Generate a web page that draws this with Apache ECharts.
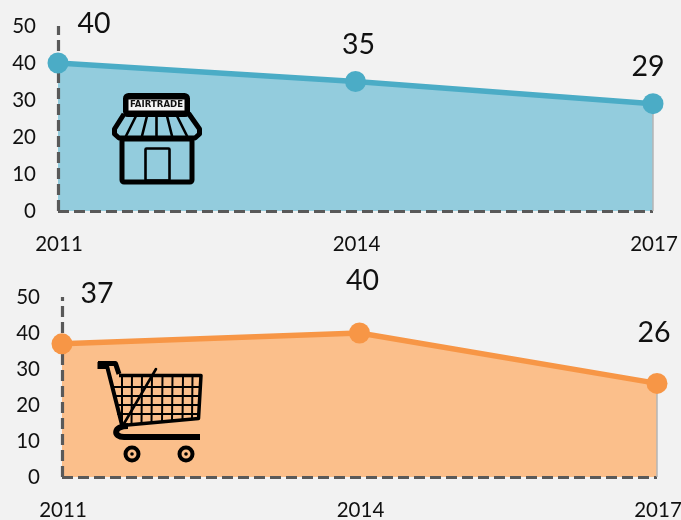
<!DOCTYPE html>
<html>
<head>
<meta charset="utf-8">
<style>html,body{margin:0;padding:0;background:#f2f2f2}#c{width:681px;height:520px}</style>
<script src="https://cdn.jsdelivr.net/npm/echarts@6/dist/echarts.min.js"></script>
</head>
<body>
<div id="c"></div>
<script>
const categories = ['2011', '2014', '2017'];
const fairtradeValues = [40, 35, 29];
const retailValues = [37, 40, 26];
const yTicks = [0, 10, 20, 30, 40, 50];

const FONT = 'Lato';
const AXIS = '#595959';
const chart = echarts.init(document.getElementById('c'));

const topOffsets = [[36, -14], [3, -12], [-5, -12]];
const bottomOffsets = [[35, -25], [3, -27], [-3, -26]];

function xAxis(idx) {
  return {
    gridIndex: idx, type: 'category', data: categories, boundaryGap: false, z: 3,
    axisLine: { show: true, onZero: false, lineStyle: { color: AXIS, width: 3.2, type: [11, 5], cap: 'butt' } },
    axisTick: { show: false },
    axisLabel: { color: '#111', fontFamily: FONT, fontSize: 20.5, margin: 23, hideOverlap: false,
      showMinLabel: true, showMaxLabel: true, interval: 0, padding: [0, 0, 0, 2] },
    splitLine: { show: false }
  };
}
function yAxis(idx) {
  return {
    gridIndex: idx, type: 'value', min: yTicks[0], max: yTicks[yTicks.length - 1], interval: 10, z: 3,
    axisLine: { show: true, lineStyle: { color: AXIS, width: 3.2, type: [11, 5], cap: 'butt' } },
    axisTick: { show: false },
    axisLabel: { color: '#111', fontFamily: FONT, fontSize: 20.5, margin: 22 },
    splitLine: { show: false }
  };
}
function areaSeries(idx, values, area) {
  const last = values.length - 1;
  return {
    type: 'line', xAxisIndex: idx, yAxisIndex: idx, z: 1, data: values, showSymbol: false, silent: true,
    lineStyle: { width: 0 }, areaStyle: { color: area, opacity: 1 }, animation: false,
    markLine: {
      silent: true, symbol: 'none', label: { show: false }, animation: false,
      lineStyle: { color: '#b5b5b5', width: 1.5, type: 'solid' },
      data: [[{ xAxis: categories[last], yAxis: 0 }, { xAxis: categories[last], yAxis: values[last] }]]
    }
  };
}
function lineSeries(idx, values, offsets, line) {
  return {
    type: 'line', xAxisIndex: idx, yAxisIndex: idx, z: 5,
    data: values.map((v, i) => ({
      value: v,
      label: { show: true, position: 'top', offset: offsets[i], distance: 0,
        fontFamily: FONT, fontSize: 28.5, color: '#111' }
    })),
    symbol: 'circle', symbolSize: 21, showSymbol: true,
    lineStyle: { color: line, width: 5.5 },
    itemStyle: { color: line },
    animation: false
  };
}

const K = '#000';
function ln(x1, y1, x2, y2, w) {
  return { type: 'line', silent: true, z: 20, shape: { x1, y1, x2, y2 },
    style: { stroke: K, lineWidth: w, lineCap: 'round' } };
}
function poly(points, w) {
  return { type: 'polyline', silent: true, z: 20, shape: { points },
    style: { stroke: K, lineWidth: w, fill: 'none', lineJoin: 'round', lineCap: 'butt' } };
}
function rect(x, y, width, height, w, fill, r) {
  return { type: 'rect', silent: true, z: 20, shape: { x, y, width, height, r: r || 0 },
    style: { stroke: w ? K : 'none', lineWidth: w, fill: fill || 'none' } };
}
function wheel(cx, cy) {
  return [
    { type: 'circle', silent: true, z: 20, shape: { cx, cy, r: 6.5 }, style: { stroke: K, lineWidth: 4, fill: 'none' } },
    { type: 'circle', silent: true, z: 20, shape: { cx, cy, r: 1.8 }, style: { fill: K } }
  ];
}

const shop = [
  rect(125.5, 95.5, 62, 19, 5, '#000', 3),
  rect(128.5, 99.5, 56, 11, 0, '#f4f4f4'),
  { type: 'text', silent: true, z: 21, style: { text: 'FAIRTRADE', x: 156.5, y: 105.2, align: 'center', verticalAlign: 'middle',
      fontFamily: 'DejaVu Sans', fontWeight: 'bold', fontSize: 8.6, fill: '#111' } },
  poly([[124, 114], [189, 114], [199.5, 129], [199.5, 134], [195, 138], [119, 138], [114.5, 134], [114.5, 129], [124, 114]], 5),
  ln(136, 116, 126, 136, 2.6), ln(147, 116, 142, 136, 2.6), ln(156.5, 116, 156.5, 136, 2.6),
  ln(167, 116, 172, 136, 2.6), ln(177, 116, 187, 136, 2.6),
  rect(122, 139, 70, 43, 5, null, 2),
  rect(145.5, 148.5, 24, 32, 2.6, null, 1)
];

const cart = [
  poly([[98, 363.5], [115.5, 363.5], [119, 374]], 5),
  rect(97.5, 362, 9, 7, 0, K),
  ln(107, 366, 122, 425, 4),
  poly([[119, 375.5], [201, 375.5], [198.5, 418.5], [122, 425.5]], 3.5),
  ...[132, 142, 152, 162.5, 172.5, 183, 192.5].map((x) => ln(x, 376, x - 0.5, 425.5 - (x - 122) * 0.09, 2)),
  ln(122, 377, 122, 423, 2),
  ln(112, 387, 200, 387, 2), ln(114, 396, 200, 396, 2), ln(116, 405, 199, 405, 2), ln(118, 414, 199, 414, 2),
  ln(122, 427, 156, 369, 2.6),
  { type: 'bezierCurve', silent: true, z: 20,
    shape: { x1: 128, y1: 426, cpx1: 113, cpy1: 426, cpx2: 113, cpy2: 437, x2: 124, y2: 437 },
    style: { stroke: K, lineWidth: 6, fill: 'none' } },
  { type: 'line', silent: true, z: 20, shape: { x1: 124, y1: 437, x2: 200, y2: 437 }, style: { stroke: K, lineWidth: 6 } },
  ...wheel(132, 454), ...wheel(186, 454)
];

chart.setOption({
  backgroundColor: '#f2f2f2',
  animation: false,
  grid: [
    { left: 58, top: 26, width: 595, height: 185, outerBoundsMode: 'none' },
    { left: 62, top: 297, width: 595, height: 180, outerBoundsMode: 'none' }
  ],
  xAxis: [xAxis(0), xAxis(1)],
  yAxis: [yAxis(0), yAxis(1)],
  series: [
    areaSeries(0, fairtradeValues, '#93ccdd'),
    lineSeries(0, fairtradeValues, topOffsets, '#4bacc6'),
    areaSeries(1, retailValues, '#fbbf8b'),
    lineSeries(1, retailValues, bottomOffsets, '#f79646')
  ],
  graphic: [...shop, ...cart]
});
</script>
</body>
</html>
